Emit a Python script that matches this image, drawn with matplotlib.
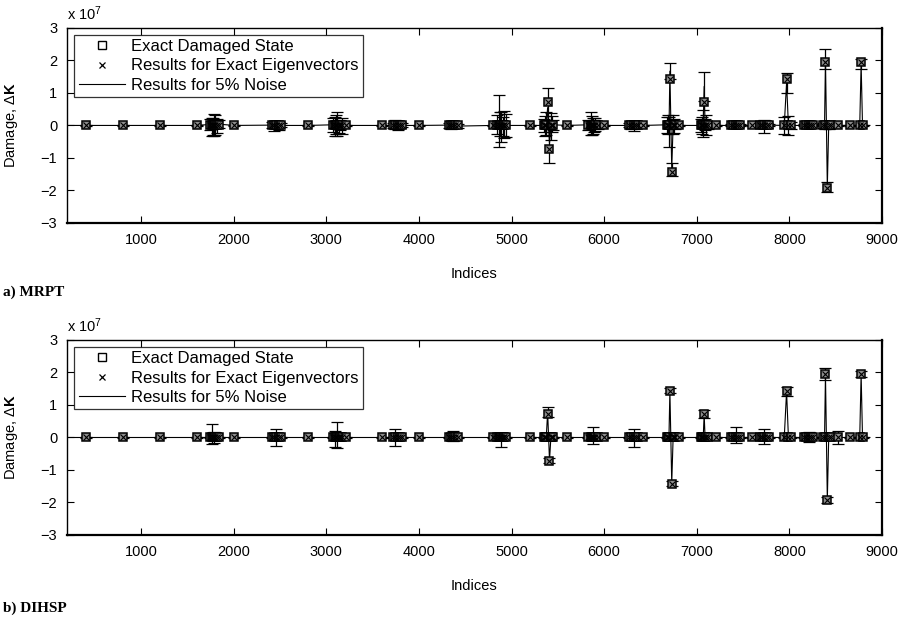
import numpy as np
import matplotlib.pyplot as plt
from matplotlib.ticker import FuncFormatter

plt.rcParams["font.family"] = ["Liberation Sans", "DejaVu Sans"]
plt.rcParams["mathtext.fontset"] = "custom"
plt.rcParams["mathtext.rm"] = "Liberation Sans"
plt.rcParams["mathtext.bf"] = "Liberation Sans:bold"
plt.rcParams["mathtext.it"] = "Liberation Sans:italic"

# stiffness entries shown on the plots (index into the vector of nonzero terms)
indices = [
    400, 800, 1200, 1600,
    1740, 1765, 1778, 1790, 1803, 1815, 1840,
    2000,
    2410, 2435, 2460, 2485, 2510,
    2800,
    3070, 3095, 3108, 3120, 3133, 3145, 3170,
    3210, 3600,
    3720, 3745, 3770, 3795, 3820,
    4000,
    4320, 4345, 4370, 4395, 4420,
    4800, 4840, 4865, 4878, 4890, 4903, 4915, 4940,
    5200,
    5350, 5363, 5375, 5390, 5410, 5425, 5438, 5450,
    5600,
    5830, 5855, 5868, 5880, 5893, 5905, 5930,
    6000,
    6270, 6295, 6320, 6345, 6370,
    6420,
    6680, 6690, 6700, 6710, 6730, 6745, 6755, 6765,
    6810,
    7050, 7060, 7070, 7080, 7090, 7100, 7125,
    7210,
    7370, 7395, 7420, 7445, 7470,
    7600,
    7680, 7705, 7730, 7755, 7780,
    7945, 7970, 7990, 8015,
    8160, 8185, 8210, 8235, 8260,
    8360, 8380, 8390, 8410, 8425, 8445,
    8530, 8650, 8760, 8775, 8790,
]
line_start, line_end = 1, 8870

# exact damage (x 1e7); every other entry is undamaged (0)
damaged_idx = [5390, 5410, 6710, 6730, 7080, 7970, 8390, 8410, 8775]
damaged_val = [0.72, -0.72, 1.44, -1.42, 0.72, 1.44, 1.95, -1.93, 1.95]

# 5% noise results: mean and error half-width (x 1e7), undamaged singles ~0
small_err = 0.02
mrpt_idx = [1740, 1765, 1790, 1815, 1840, 2410, 2435, 2460, 2485, 2510,
            3070, 3095, 3120, 3145, 3170, 3720, 3745, 3770, 3795, 3820,
            4320, 4345, 4370, 4395, 4420, 4840, 4865, 4890, 4915, 4940,
            5350, 5375, 5390, 5410, 5425, 5450, 5830, 5855, 5880, 5905, 5930,
            6270, 6295, 6320, 6345, 6370, 6680, 6700, 6710, 6730, 6745, 6765,
            7050, 7070, 7080, 7100, 7125, 7370, 7395, 7420, 7445, 7470,
            7680, 7705, 7730, 7755, 7780, 7945, 7970, 7990, 8015,
            8160, 8185, 8210, 8235, 8260, 8360, 8380, 8390, 8410, 8425, 8445,
            8775,
            1778, 1803, 3108, 3133, 4878, 4903, 5363, 5438, 5868, 5893,
            6690, 6755, 7060, 7090]
mrpt_mean = [0.03, -0.04, 0.02, -0.02, 0.04, 0.01, -0.02, 0.02, -0.01, 0.0,
             0.02, -0.03, 0.04, 0.0, -0.02, 0.0, 0.02, -0.02, 0.01, 0.0,
             0.01, -0.01, 0.02, 0.0, -0.02, 0.03, 0.15, -0.05, 0.02, 0.0,
             0.0, 0.05, 0.55, -0.55, -0.03, 0.02, 0.02, 0.05, -0.02, 0.03, 0.0,
             0.0, 0.02, -0.01, 0.01, 0.0, 0.02, -0.20, 1.67, -1.35, 0.03, 0.0,
             0.0, 0.05, 1.20, 0.02, -0.02, 0.0, 0.0, 0.0, 0.0, 0.0,
             0.0, 0.01, -0.02, 0.0, 0.01, 0.0, 1.31, 0.0, 0.0,
             0.0, 0.0, 0.0, 0.0, 0.0, 0.0, 0.02, 2.05, -1.90, 0.0, 0.0,
             1.90,
             -0.03, 0.02, 0.03, -0.04, 0.04, -0.03, -0.02, 0.04, 0.0, -0.02,
             0.03, -0.02, 0.0, 0.03]
mrpt_err = [0.18, 0.28, 0.33, 0.22, 0.12, 0.10, 0.14, 0.08, 0.12, 0.06,
            0.22, 0.30, 0.36, 0.15, 0.25, 0.08, 0.14, 0.12, 0.10, 0.06,
            0.08, 0.10, 0.06, 0.09, 0.07, 0.28, 0.80, 0.45, 0.42, 0.35,
            0.20, 0.35, 0.60, 0.60, 0.42, 0.15, 0.15, 0.35, 0.25, 0.20, 0.10,
            0.06, 0.12, 0.15, 0.08, 0.05, 0.25, 0.45, 0.25, 0.20, 0.30, 0.12,
            0.20, 0.42, 0.45, 0.30, 0.10, 0.03, 0.05, 0.04, 0.05, 0.03,
            0.05, 0.10, 0.20, 0.08, 0.04, 0.27, 0.31, 0.28, 0.10,
            0.03, 0.05, 0.04, 0.05, 0.03, 0.08, 0.12, 0.31, 0.15, 0.10, 0.06,
            0.15,
            0.25, 0.30, 0.28, 0.20, 0.38, 0.30, 0.30, 0.25, 0.30, 0.18,
            0.28, 0.22, 0.25, 0.18]

dihsp_idx = [1765, 1790, 2460, 3095, 3120, 3745, 4370, 4890, 5390, 5410,
             5880, 6320, 6710, 6730, 7080, 7420, 7730, 7970, 8210, 8390,
             8410, 8530, 8775]
dihsp_mean = [0.10, 0.0, 0.0, -0.05, 0.08, 0.0, 0.05, -0.07, 0.78, -0.71,
              0.05, -0.02, 1.44, -1.41, 0.72, 0.07, 0.02, 1.42, 0.02, 1.95,
              -1.92, 0.0, 1.95]
dihsp_err = [0.30, 0.17, 0.27, 0.25, 0.40, 0.26, 0.15, 0.22, 0.15, 0.07,
             0.26, 0.28, 0.08, 0.08, 0.13, 0.24, 0.23, 0.14, 0.16, 0.18,
             0.10, 0.21, 0.10]

panels = [("a) MRPT", mrpt_idx, mrpt_mean, mrpt_err),
          ("b) DIHSP", dihsp_idx, dihsp_mean, dihsp_err)]

scale = 1e7
x = np.array(indices)
exact = np.array([damaged_val[damaged_idx.index(i)] if i in damaged_idx else 0.0
                  for i in indices]) * scale
eig = exact.copy()  # exact eigenvectors recover the exact damage

fig = plt.figure(figsize=(9.03, 6.21), dpi=100)
bottoms = [0.641, 0.1385]
label_y = [1 - 292 / 621, 1 - 608 / 621]

for (name, n_idx, n_mean, n_err), b, ly in zip(panels, bottoms, label_y):
    ax = fig.add_axes([0.0742, b, 0.9025, 0.314])
    mean = np.array([n_mean[n_idx.index(i)] if i in n_idx else 0.0 for i in indices]) * scale
    err = np.array([n_err[n_idx.index(i)] if i in n_idx else small_err for i in indices]) * scale

    # 5% noise: mean line over all entries plus error bars
    ax.plot([line_start] + indices + [line_end], np.r_[0, mean, 0], "-", color="k", lw=0.8)
    ax.errorbar(x, mean, yerr=err, fmt="none", ecolor="k", elinewidth=0.9,
                capsize=4.5, capthick=0.9)
    ax.plot(x, exact, "s", mfc="0.55", mec="k", ms=6, mew=1.1)
    ax.plot(x, eig, "x", color="k", ms=4, mew=0.8)

    # legend proxies
    h1, = ax.plot([], [], "s", mfc="none", mec="k", ms=5.5, mew=1.0, label="Exact Damaged State")
    h2, = ax.plot([], [], "x", color="k", ms=4, mew=0.9, label="Results for Exact Eigenvectors")
    h3, = ax.plot([], [], "-", color="k", lw=0.8, label="Results for 5% Noise")
    leg = ax.legend(handles=[h1, h2, h3], loc="upper left", bbox_to_anchor=(0.009, 0.964),
                    fontsize=12, frameon=True, fancybox=False, borderaxespad=0,
                    handlelength=2.8, handletextpad=0.35, labelspacing=0.26,
                    borderpad=0.25)
    leg.get_frame().set_edgecolor("k")
    leg.get_frame().set_linewidth(0.9)

    ax.set_xlim(200, 9000)
    ax.set_ylim(-3 * scale, 3 * scale)
    ax.set_xticks(np.arange(1000, 9001, 1000))
    ax.set_yticks(np.arange(-3, 4) * scale)
    ax.yaxis.set_major_formatter(FuncFormatter(lambda v, p: f"{v / scale:.0f}".replace("-", "\u2212")))
    ax.tick_params(direction="in", top=True, right=True, length=5, width=0.8,
                   labelsize=10.5, pad=7)
    for s in ("top", "left"):
        ax.spines[s].set_linewidth(1.0)
    for s in ("bottom", "right"):
        ax.spines[s].set_linewidth(1.6)

    ax.text(0.0, 1.025, r"x 10$^{7}$", transform=ax.transAxes, ha="left", va="bottom", fontsize=10.5)
    ax.set_ylabel(r"Damage, $\Delta\mathbf{K}$", fontsize=10.5)
    ax.yaxis.set_label_coords(-0.058, 0.5)
    ax.set_xlabel("Indices", fontsize=10.5)
    ax.xaxis.set_label_coords(0.5, -0.225)

    fig.text(3 / 903, ly, name, ha="left", va="center", fontsize=11,
             fontweight="bold", family="Liberation Serif")

fig.savefig("out.png", dpi=100)
